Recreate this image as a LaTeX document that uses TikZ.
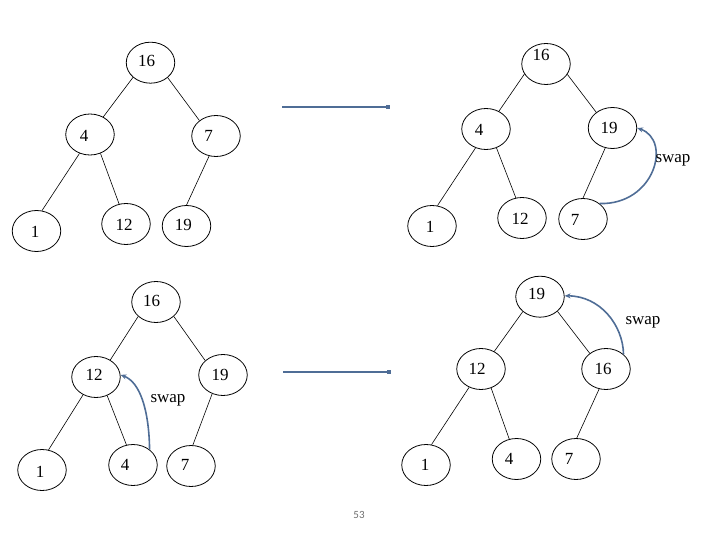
\documentclass[tikz,border=0pt]{standalone}
\usepackage{fontspec}
\setmainfont{Liberation Serif}
\newfontfamily\pagefont{Carlito}
\usetikzlibrary{shapes.geometric,arrows.meta}
\definecolor{swapblue}{RGB}{79,109,150}
\definecolor{pagegray}{RGB}{110,110,110}
\begin{document}
\begin{tikzpicture}[x=1pt,y=-1pt,
 ell/.style={draw=black, line width=0.8pt, ellipse, minimum width=48.5pt, minimum height=41pt, inner sep=0pt},
 num/.style={font=\fontsize{17}{20}\selectfont, inner sep=0pt},
 tline/.style={draw=black, line width=0.6pt},
 swapline/.style={draw=swapblue, line width=1.6pt, -{Stealth[length=6pt,width=5pt]}},
 swaplbl/.style={font=\fontsize{17}{20}\selectfont, inner sep=0pt},
 harrow/.style={draw=swapblue, line width=1.4pt, -{Square[length=4pt,width=4.5pt]}}]
\useasboundingbox (0,0) rectangle (720,540);

% ---------- top-left tree ----------
\node[ell] (a16) at (150.5,62.7) {};
\node[ell] (a4)  at (90,134.5) {};
\node[ell] (a7)  at (216,136) {};
\node[ell] (a1)  at (36.5,231) {};
\node[ell] (a12) at (126,224) {};
\node[ell] (a19) at (186.5,226) {};
\node[num] (ta16) at (146.7,61) {16};
\node[num] (ta4)  at (84,136) {4};
\node[num] (ta7)  at (208.5,136) {7};
\node[num] (ta1)  at (35,231.7) {1};
\node[num] (ta12) at (124,225) {12};
\node[num] (ta19) at (183.3,225) {19};
\draw[tline] (a16.220) -- (a4.53);
\draw[tline] (a16.319) -- (a7.137);
\draw[tline] (a4.241) -- (a1.75);
\draw[tline] (a4.299) -- (a12.109);
\draw[tline] (a7.251) -- (a19.90);

% ---------- top-right tree ----------
\node[ell] (b16) at (546,64) {};
\node[ell] (b4)  at (486,129) {};
\node[ell] (b19) at (612.5,128) {};
\node[ell] (b1)  at (432,226) {};
\node[ell] (b12) at (522,218) {};
\node[ell] (b7)  at (583,219) {};
\node[num] (tb16) at (541,55) {16};
\node[num] (tb4)  at (479,130) {4};
\node[num] (tb19) at (609,128) {19};
\node[num] (tb1)  at (430,227) {1};
\node[num] (tb12) at (520,219) {12};
\node[num] (tb7)  at (575,220) {7};
\draw[tline] (b16.205) -- (b4.54);
\draw[tline] (b16.334) -- (b19.136);
\draw[tline] (b4.241) -- (b1.75);
\draw[tline] (b4.299) -- (b12.107);
\draw[tline] (b19.250) -- (b7.90);
\draw[swapline] (b7.43) .. controls (655,205) and (672,140) .. (b19.0);
\node[swaplbl] (sb) at (673,160) {swap};

% ---------- bottom-left tree ----------
\node[ell] (c16) at (156,302) {};
\node[ell] (c12) at (96,377) {};
\node[ell] (c19) at (223,375) {};
\node[ell] (c1)  at (42,470) {};
\node[ell] (c4)  at (133,465) {};
\node[ell] (c7)  at (191,466) {};
\node[num] (tc16) at (151.7,300.7) {16};
\node[num] (tc12) at (94,375) {12};
\node[num] (tc19) at (220,375) {19};
\node[num] (tc1)  at (40,472) {1};
\node[num] (tc4)  at (125,465) {4};
\node[num] (tc7)  at (185,465) {7};
\draw[tline] (c16.219) -- (c12.50);
\draw[tline] (c16.321) -- (c19.141);
\draw[tline] (c12.234) -- (c1.72);
\draw[tline] (c12.301) -- (c4.108);
\draw[tline] (c19.240) -- (c7.85);
\draw[swapline] (c4.43) .. controls (149,410) and (140,382) .. (c12.5);
\node[swaplbl] (sc) at (168,400) {swap};

% ---------- bottom-right tree ----------
\node[ell] (d19) at (540,296.7) {};
\node[ell] (d12) at (481,369) {};
\node[ell] (d16) at (606,369) {};
\node[ell] (d1)  at (426,465) {};
\node[ell] (d4)  at (516.5,459) {};
\node[ell] (d7)  at (576,459) {};
\node[num] (td19) at (536.7,294) {19};
\node[num] (td12) at (477,369) {12};
\node[num] (td16) at (603,369) {16};
\node[num] (td1)  at (425,465) {1};
\node[num] (td4)  at (509,459) {4};
\node[num] (td7)  at (569,459) {7};
\draw[tline] (d19.221) -- (d12.53);
\draw[tline] (d19.320) -- (d16.136);
\draw[tline] (d12.237) -- (d1.75);
\draw[tline] (d12.298) -- (d4.110);
\draw[tline] (d16.251) -- (d7.88);
\draw[swapline] (d16.40) .. controls (623,325) and (600,296) .. (d19.2);
\node[swaplbl] (sd) at (643,322) {swap};

% ---------- horizontal arrows ----------
\coordinate (h1s) at (282,107);
\coordinate (h1e) at (390,107);
\coordinate (h2s) at (283,372);
\coordinate (h2e) at (391,372);
\draw[harrow] (h1s) -- (h1e);
\draw[harrow] (h2s) -- (h2e);

% ---------- page number ----------
\node[font=\pagefont\fontsize{11}{13}\selectfont, text=pagegray, inner sep=0pt] (pg) at (359,515) {53};
\end{tikzpicture}
\end{document}
